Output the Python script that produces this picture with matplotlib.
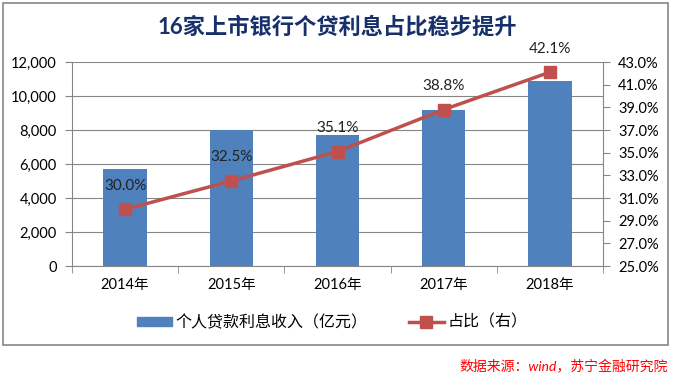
import matplotlib.pyplot as plt
from matplotlib.patches import Rectangle, Patch
from matplotlib.lines import Line2D
from matplotlib.ticker import FuncFormatter, MultipleLocator, FixedLocator

plt.rcParams['font.family'] = ['Lato', 'Noto Sans CJK SC', 'DejaVu Sans']

years = ['2014年', '2015年', '2016年', '2017年', '2018年']
income = [5700, 8000, 7700, 9200, 10900]
ratio = [30.0, 32.5, 35.1, 38.8, 42.1]

blue = '#4F81BD'
red = '#C0504D'
grey = '#868686'

fig = plt.figure(figsize=(6.75, 3.78), dpi=100)
ax = fig.add_axes([72 / 675, 1 - 266 / 378, 531 / 675, 204 / 378])
x = range(len(years))
ax.bar(x, income, width=0.41, color=blue, zorder=2)
ax.set_xlim(-0.5, len(years) - 0.5)
ax.set_ylim(0, 12000)
ax.yaxis.set_major_locator(MultipleLocator(2000))
ax.yaxis.set_major_formatter(FuncFormatter(lambda v, p: f'{v:,.0f}'))
ax.grid(axis='y', color=grey, linewidth=0.8, zorder=0)
ax.set_xticks(list(x))
ax.set_xticklabels(years)
ax.set_xticks([i + 0.5 for i in range(-1, len(years))], minor=True)
ax.tick_params(axis='x', which='major', length=0, pad=9, labelsize=10.5)
ax.tick_params(axis='x', which='minor', length=5, color=grey, direction='out')
ax.tick_params(axis='y', length=5, color=grey, labelsize=10.5, pad=6)
for s in ['top', 'right']:
    ax.spines[s].set_visible(False)
for s in ['left', 'bottom']:
    ax.spines[s].set_color(grey)

ax2 = ax.twinx()
ax2.plot(x, ratio, color=red, linewidth=2.5, marker='s', markersize=9, zorder=3)
ax2.set_ylim(25, 43)
ax2.yaxis.set_major_locator(FixedLocator(list(range(25, 44, 2))))
ax2.yaxis.set_major_formatter(FuncFormatter(lambda v, p: f'{v:.1f}%'))
ax2.tick_params(axis='y', length=5, color=grey, labelsize=10.5, pad=6)
for s in ['top', 'left', 'bottom']:
    ax2.spines[s].set_visible(False)
ax2.spines['right'].set_color(grey)
for i, v in enumerate(ratio):
    ax2.annotate(f'{v:.1f}%', (i, v), xytext=(0, 12), textcoords='offset points',
                 ha='center', va='bottom', fontsize=11, color='#222222')

fig.text(0.5, 1 - 27 / 378, '16家上市银行个贷利息占比稳步提升', ha='center', va='center',
         fontsize=16, fontweight='bold', color='#17306A')

handles = [Patch(color=blue),
           Line2D([0], [0], color=red, linewidth=2.5, marker='s', markersize=8)]
fig.legend(handles, ['个人贷款利息收入（亿元）', '占比（右）'], loc='center',
           bbox_to_anchor=(332 / 675, 1 - 322 / 378), ncol=2, frameon=False, fontsize=11.5,
           handlelength=2.2, handleheight=0.5, columnspacing=2.6, handletextpad=0.2)

fig.patches.append(Rectangle((3 / 675, 1 - 345 / 378), 665 / 675, 342 / 378,
                             transform=fig.transFigure, fill=False,
                             edgecolor=grey, linewidth=1.2))
fig.text(668 / 675, 1 - 366 / 378, '数据来源：wind，苏宁金融研究院', ha='right', va='center',
         fontsize=10, color='red', style='italic')

fig.savefig('out.png', dpi=100)
